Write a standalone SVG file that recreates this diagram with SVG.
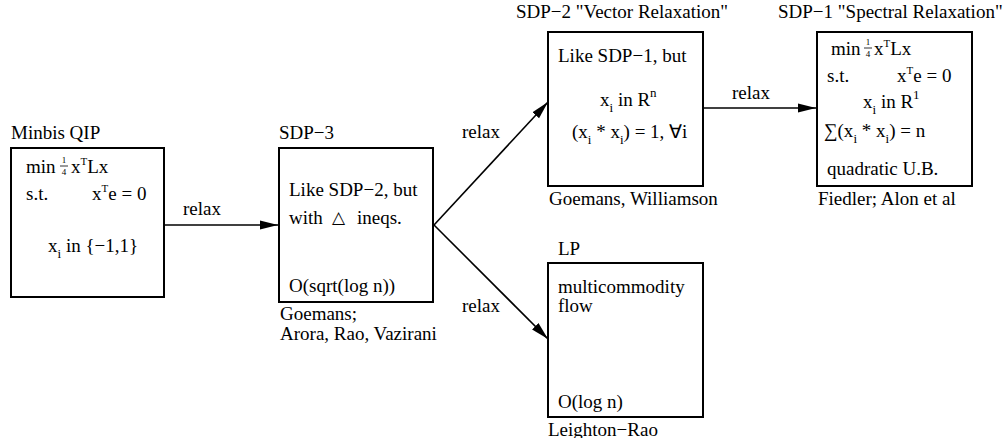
<svg xmlns="http://www.w3.org/2000/svg" width="1007" height="438" viewBox="0 0 1007 438">
<style>
text{font-family:"Liberation Serif","Times New Roman",serif;font-size:19px;fill:#000}
.sm{font-size:11px}
.sb{font-size:13px}
.fr{font-size:9px;text-anchor:middle}
.box{fill:#fff;stroke:#000;stroke-width:2}
.conn{stroke:#000;stroke-width:1.6;fill:none}
.sym{font-family:"DejaVu Sans",sans-serif;font-size:17px}
</style>
<defs>
<marker id="ah" markerUnits="userSpaceOnUse" markerWidth="18" markerHeight="10" refX="18" refY="5" orient="auto">
<path d="M0,0.5 L18,5 L0,9.5 z" fill="#000"/>
</marker>
</defs>
<g id="connectors">
<line class="conn" x1="164" y1="225" x2="278" y2="225" marker-end="url(#ah)"/>
<line class="conn" x1="434" y1="225" x2="548" y2="102" marker-end="url(#ah)"/>
<line class="conn" x1="434" y1="225" x2="548" y2="339" marker-end="url(#ah)"/>
<line class="conn" x1="703" y1="108" x2="816" y2="108" marker-end="url(#ah)"/>
<text x="183" y="215">relax</text>
<text x="462" y="138">relax</text>
<text x="462" y="312">relax</text>
<text x="732" y="99">relax</text>
</g>
<g id="minbis">
<text x="11" y="139">Minbis QIP</text>
<rect class="box" x="11" y="148" width="153" height="149"/>
<text x="26" y="173">min</text>
<text class="fr" x="64" y="163">1</text>
<line x1="60" y1="166" x2="68" y2="166" stroke="#000" stroke-width="0.8"/>
<text class="fr" x="64" y="175">4</text>
<text x="71" y="173">x<tspan class="sm" dy="-8">T</tspan><tspan dy="8">Lx</tspan></text>
<text x="26" y="200">s.t.</text>
<text x="92" y="200">x<tspan class="sm" dy="-8">T</tspan><tspan dy="8">e = 0</tspan></text>
<text x="48" y="252">x<tspan class="sb" dy="6">i</tspan><tspan dy="-6"> in {−1,1}</tspan></text>
</g>
<g id="sdp3">
<text x="279" y="139">SDP−3</text>
<rect class="box" x="279" y="148" width="154" height="154"/>
<text x="289" y="196">Like SDP−2, but</text>
<text x="289" y="224">with</text>
<text class="sym" x="332" y="223">△</text>
<text x="357" y="224">ineqs.</text>
<text x="289" y="292">O(sqrt(log n))</text>
<text x="280" y="320">Goemans;</text>
<text x="280" y="340">Arora, Rao, Vazirani</text>
</g>
<g id="sdp2">
<text x="516" y="18">SDP−2 "Vector Relaxation"</text>
<rect class="box" x="548" y="32" width="155" height="154"/>
<text x="558" y="62">Like SDP−1, but</text>
<text x="600" y="106">x<tspan class="sb" dy="6">i</tspan><tspan dy="-6"> in R</tspan><tspan class="sb" dy="-9">n</tspan></text>
<text x="572" y="138">(x<tspan class="sb" dy="6">i</tspan><tspan dy="-6"> * x</tspan><tspan class="sb" dy="6">i</tspan><tspan dy="-6">) = 1, ∀i</tspan></text>
<text x="549" y="205">Goemans, Williamson</text>
</g>
<g id="sdp1">
<text x="778" y="18">SDP−1 "Spectral Relaxation"</text>
<rect class="box" x="817" y="32" width="155" height="154"/>
<text x="831" y="55">min</text>
<text class="fr" x="868" y="45">1</text>
<line x1="864" y1="48" x2="872" y2="48" stroke="#000" stroke-width="0.8"/>
<text class="fr" x="868" y="57">4</text>
<text x="874" y="55">x<tspan class="sm" dy="-8">T</tspan><tspan dy="8">Lx</tspan></text>
<text x="827" y="82">s.t.</text>
<text x="897" y="82">x<tspan class="sm" dy="-8">T</tspan><tspan dy="8">e = 0</tspan></text>
<text x="863" y="108">x<tspan class="sb" dy="6">i</tspan><tspan dy="-6"> in R</tspan><tspan class="sb" dy="-9">1</tspan></text>
<text x="824" y="137">∑(x<tspan class="sb" dy="6">i</tspan><tspan dy="-6"> * x</tspan><tspan class="sb" dy="6">i</tspan><tspan dy="-6">) = n</tspan></text>
<text x="827" y="175">quadratic U.B.</text>
<text x="818" y="205">Fiedler; Alon et al</text>
</g>
<g id="lp">
<text x="558" y="255">LP</text>
<rect class="box" x="548" y="263" width="155" height="154"/>
<text x="558" y="293">multicommodity</text>
<text x="558" y="312">flow</text>
<text x="558" y="408">O(log n)</text>
<text x="548" y="436">Leighton−Rao</text>
</g>
</svg>
